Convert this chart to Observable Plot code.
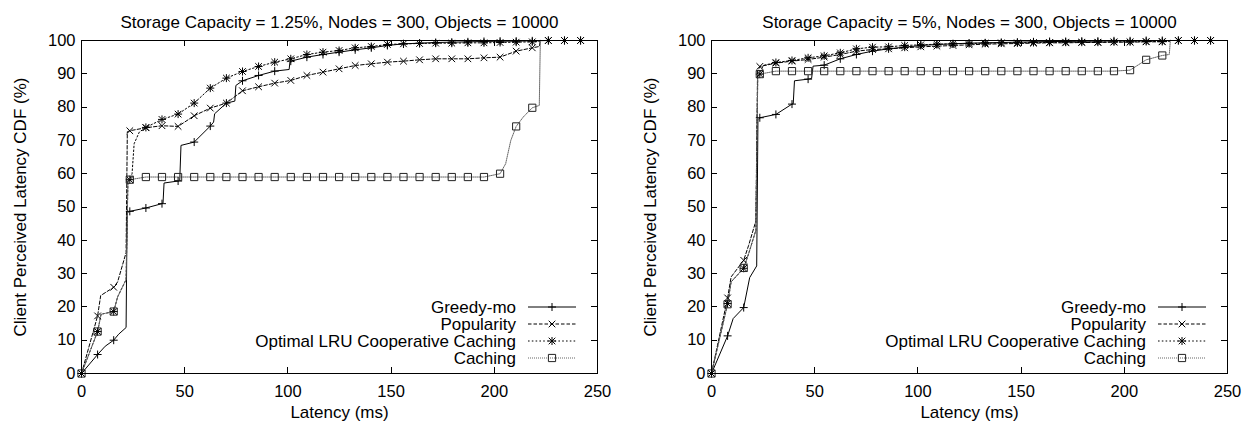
<!DOCTYPE html>
<html><head><meta charset="utf-8">
<script src="https://cdn.jsdelivr.net/npm/d3@7"></script>
<script src="https://cdn.jsdelivr.net/npm/@observablehq/plot@0.6"></script>
<style>
body{margin:0;background:#fff;}
#wrap{display:flex;width:1252px;height:430px;overflow:hidden;}
svg{font-family:"Liberation Sans",Arial,Helvetica,sans-serif;}
</style></head><body><div id="wrap"></div>
<script>
// ---------- data ----------
const panelTitles = [
  "Storage Capacity = 1.25%, Nodes = 300, Objects = 10000",
  "Storage Capacity = 5%, Nodes = 300, Objects = 10000"
];
const xLabel = "Latency (ms)";
const yLabel = "Client Perceived Latency CDF (%)";
const seriesNames = ["Greedy-mo", "Popularity", "Optimal LRU Cooperative Caching", "Caching"];
const xTicks = [0, 50, 100, 150, 200, 250];
const yTicks = [0, 10, 20, 30, 40, 50, 60, 70, 80, 90, 100];

// latencies (ms) at which point markers are drawn
const markerLatency = [0, 7.8, 15.6, 23.4, 31.2, 39, 46.8, 54.6, 62.4, 70.2, 78, 85.8, 93.6, 101.4, 109.2, 117,
  124.8, 132.6, 140.4, 148.2, 156, 163.8, 171.6, 179.4, 187.2, 195, 202.8, 210.6, 218.4, 226.2, 234, 241.8];

// Panel 1: storage 1.25% — CDF values at the marker latencies, plus extra [latency, cdf] shape points
const greedy125 = [0, 5.7, 10, 48.7, 49.7, 51, 57.8, 69.5, 74.3, 81.2, 87.9, 89.5, 90.8, 93.8, 95, 95.8, 96.5, 97.2,
  97.8, 98.5, 99, 99.2, 99.4, 99.5, 99.6, 99.7, 99.8, 99.8, 99.9, 100, 100, 100];
const greedy125Extra = [[11.5, 8.2], [18, 11.8], [21.6, 13.8], [22.1, 48.3], [39.5, 51.2], [40, 57.2], [47.6, 58],
  [48.2, 68.5], [64, 75.5], [64.5, 78], [74.3, 81.8], [74.8, 86.5], [100.6, 91.3], [101, 93.6]];
const popularity125 = [0, 17.3, 25.9, 72.9, 73.8, 74.4, 74.2, 77.4, 79.7, 81.2, 84.9, 86.1, 87.2, 88, 89.5, 90.5,
  91.5, 92.5, 93, 93.5, 93.8, 94.2, 94.5, 94.5, 94.5, 94.8, 95, 96.8, 97.8, 100, 100, 100];
const popularity125Extra = [[9.3, 23.4], [17.5, 27.5], [21.6, 36.3], [22.2, 72.6], [221.8, 98.2], [222.3, 100]];
const optimal125 = [0, 12.6, 18.6, 58.2, 73.9, 76.3, 77.9, 81.2, 85.7, 88.7, 90.7, 92.2, 93.5, 94.5, 95.8, 96.5, 97,
  97.8, 98.2, 98.8, 99, 99.1, 99.2, 99.2, 99.3, 99.3, 99.4, 99.5, 99.6, 100, 100, 100];
const optimal125Extra = [[9.5, 17.8], [17.5, 23], [21.6, 28.2], [22.5, 57.8], [24.5, 60], [25.5, 69], [28, 72.5],
  [221.8, 99.7], [222.3, 100]];
const caching125 = [0, 12.6, 18.6, 58.2, 59, 59, 59, 59, 59, 59, 59, 59, 59, 59, 59, 59, 59, 59, 59, 59, 59, 59, 59,
  59, 59, 59, 60, 74.2, 79.8];
const caching125Extra = [[9.5, 17.8], [17.5, 23], [21.6, 28.2], [22.5, 57.8], [205.5, 63], [208, 70], [214, 77],
  [221.8, 80.5], [222.3, 100]];

// Panel 2: storage 5%
const greedy5 = [0, 11.3, 19.8, 76.8, 77.8, 80.9, 88.4, 92.6, 94.5, 95.8, 96.8, 97.5, 98, 98.5, 98.8, 99, 99.2, 99.3,
  99.4, 99.5, 99.6, 99.7, 99.7, 99.8, 99.8, 99.9, 99.9, 100, 100, 100, 100, 100];
const greedy5Extra = [[10.5, 16.5], [18.5, 28.8], [21.9, 32.3], [22.5, 76.2], [39.6, 81], [40.2, 87.9], [48.5, 88.6],
  [49.2, 92.3]];
const popularity5 = [0, 22.7, 34, 92.2, 93.2, 93.8, 94.3, 95, 95.8, 96.8, 97.3, 97.5, 97.8, 98.1, 98.3, 98.5, 98.7,
  98.9, 99, 99.1, 99.2, 99.3, 99.3, 99.4, 99.4, 99.5, 99.5, 99.6, 99.6, 100, 100, 100];
const popularity5Extra = [[9.5, 29], [18, 38.5], [21.5, 45.8], [22.3, 90.5], [221.8, 99.7], [222.3, 100]];
const optimal5 = [0, 21, 31.6, 89.9, 93.4, 94, 94.8, 95.4, 96.3, 97.5, 98, 98.1, 98.5, 98.7, 98.9, 99, 99.1, 99.2,
  99.3, 99.3, 99.4, 99.4, 99.5, 99.5, 99.5, 99.6, 99.6, 99.7, 99.7, 100, 100, 100];
const optimal5Extra = [[9.5, 27.5], [18, 36], [21.5, 43], [22.4, 89], [25, 92.5], [221.8, 99.8], [222.3, 100]];
const caching5 = [0, 20.8, 31.7, 89.9, 90.8, 90.8, 90.8, 90.8, 90.8, 90.8, 90.8, 90.8, 90.8, 90.8, 90.8, 90.8, 90.8,
  90.8, 90.8, 90.8, 90.8, 90.8, 90.8, 90.8, 90.8, 90.8, 91.1, 94.2, 95.5];
const caching5Extra = [[9.5, 27.5], [18, 36], [21.5, 43], [22.4, 89], [221.8, 95.8], [222.3, 100]];

// ---------- styling ----------
const plusSym = {draw(ctx, size) { const a = Math.sqrt(size / Math.PI); ctx.moveTo(-a, 0); ctx.lineTo(a, 0); ctx.moveTo(0, -a); ctx.lineTo(0, a); }};
const timesSym = {draw(ctx, size) { const a = Math.sqrt(size / Math.PI); ctx.moveTo(-a, -a); ctx.lineTo(a, a); ctx.moveTo(-a, a); ctx.lineTo(a, -a); }};
const squareSym = {draw(ctx, size) { const a = Math.sqrt(size / Math.PI); ctx.rect(-a, -a, 2 * a, 2 * a); }};

const seriesStyle = {
  "Greedy-mo": {stroke: "#000", dash: null, syms: [[plusSym, 4, "#000"]]},
  "Popularity": {stroke: "#000", dash: "3.5,2", syms: [[timesSym, 3.3, "#000"]]},
  "Optimal LRU Cooperative Caching": {stroke: "#000", dash: "1.6,2.2", syms: [[plusSym, 4, "#000"], [timesSym, 3.3, "#000"]]},
  "Caching": {stroke: "#666", dash: "1,1", syms: [[squareSym, 3.6, "#222"]]}
};

function build(name, values, extra) {
  const markers = values.map((v, i) => ({series: name, latency: markerLatency[i], cdf: v}));
  const line = markers.concat(extra.map(([l, c]) => ({series: name, latency: l, cdf: c})))
    .sort((a, b) => a.latency - b.latency);
  return {name, markers, line};
}

const panels = [
  {title: panelTitles[0], width: 626, marginLeft: 81, marginRight: 29, series: [
    build(seriesNames[0], greedy125, greedy125Extra),
    build(seriesNames[1], popularity125, popularity125Extra),
    build(seriesNames[2], optimal125, optimal125Extra),
    build(seriesNames[3], caching125, caching125Extra)]},
  {title: panelTitles[1], width: 626, marginLeft: 85, marginRight: 25, series: [
    build(seriesNames[0], greedy5, greedy5Extra),
    build(seriesNames[1], popularity5, popularity5Extra),
    build(seriesNames[2], optimal5, optimal5Extra),
    build(seriesNames[3], caching5, caching5Extra)]}
];

function frameTicks(index, scales, values, dims) {
  const g = d3.create("svg:g").attr("stroke", "#000").attr("stroke-width", 1);
  const L = dims.marginLeft, R = dims.width - dims.marginRight;
  const T = dims.marginTop, B = dims.height - dims.marginBottom;
  const sx = scales.x, sy = scales.y, t = 6;
  for (const v of xTicks) {
    const x = Math.round(sx(v)) + 0.5;
    g.append("line").attr("x1", x).attr("x2", x).attr("y1", B).attr("y2", B - t);
    g.append("line").attr("x1", x).attr("x2", x).attr("y1", T).attr("y2", T + t);
  }
  for (const v of yTicks) {
    const y = Math.round(sy(v)) + 0.5;
    g.append("line").attr("x1", L).attr("x2", L + t).attr("y1", y).attr("y2", y);
    g.append("line").attr("x1", R).attr("x2", R - t).attr("y1", y).attr("y2", y);
  }
  return g.node();
}

const legendOffsets = [-66, -49, -32, -15];
function legendMark(index, scales, values, dims) {
  const g = d3.create("svg:g").attr("font-size", 17);
  const R = dims.width - dims.marginRight;
  const B = dims.height - dims.marginBottom;
  seriesNames.forEach((name, i) => {
    const st = seriesStyle[name];
    const y = B + legendOffsets[i];
    g.append("text").attr("x", R - 81).attr("y", y).attr("dy", "0.36em")
      .attr("text-anchor", "end").attr("fill", "#000").text(name);
    g.append("line").attr("x1", R - 69).attr("x2", R - 21).attr("y1", y).attr("y2", y)
      .attr("stroke", st.stroke).attr("stroke-width", 1).attr("stroke-dasharray", st.dash);
    for (const [sym, r, col] of st.syms) {
      g.append("path").attr("transform", `translate(${R - 45},${y})`)
        .attr("d", d3.symbol(sym, r * r * Math.PI)())
        .attr("fill", "none").attr("stroke", col).attr("stroke-width", 1);
    }
  });
  return g.node();
}

const wrap = document.getElementById("wrap");
for (const p of panels) {
  const marks = [];
  for (const s of p.series) {
    const st = seriesStyle[s.name];
    marks.push(Plot.line(s.line, {x: "latency", y: "cdf", stroke: st.stroke, strokeWidth: 1,
      strokeDasharray: st.dash, curve: "linear"}));
  }
  for (const s of p.series) {
    const st = seriesStyle[s.name];
    for (const [sym, r, col] of st.syms) {
      marks.push(Plot.dot(s.markers, {x: "latency", y: "cdf", symbol: sym, r, fill: "none", stroke: col, strokeWidth: 1}));
    }
  }
  marks.push(Plot.frame({stroke: "#000", strokeWidth: 1}));
  marks.push(frameTicks);
  marks.push(legendMark);
  marks.push(Plot.text([p.title], {text: d => d, frameAnchor: "top", dy: -25, fontSize: 17, fill: "#000", textAnchor: "middle"}));
  marks.push(Plot.text([xLabel], {text: d => d, frameAnchor: "bottom", dy: 44, fontSize: 17, fill: "#000", textAnchor: "middle"}));
  marks.push(Plot.text([yLabel], {text: d => d, frameAnchor: "left", dx: -61, rotate: -90, fontSize: 17, fill: "#000", textAnchor: "middle"}));

  const chart = Plot.plot({
    width: p.width, height: 430,
    marginLeft: p.marginLeft, marginRight: p.marginRight, marginTop: 40, marginBottom: 57,
    style: {fontFamily: '"Liberation Sans", Arial, sans-serif', fontSize: "16.5px", color: "#000", background: "#fff"},
    x: {domain: [0, 250], ticks: xTicks, tickSize: 0, tickPadding: 12, label: null},
    y: {domain: [0, 100], ticks: yTicks, tickSize: 0, tickPadding: 6, label: null},
    marks
  });
  wrap.appendChild(chart);
}
</script>
</body></html>
